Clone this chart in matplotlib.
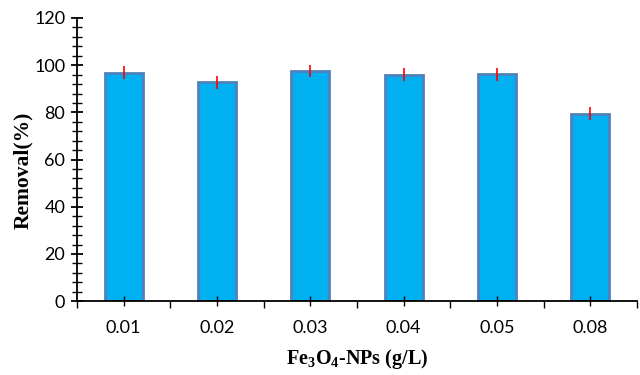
import matplotlib
matplotlib.use("Agg")
import matplotlib.pyplot as plt
from matplotlib.ticker import MultipleLocator, FixedLocator
import numpy as np

plt.rcParams["mathtext.fontset"] = "custom"
plt.rcParams["mathtext.rm"] = "Liberation Serif:bold"
plt.rcParams["mathtext.bf"] = "Liberation Serif:bold"

doses = ["0.01", "0.02", "0.03", "0.04", "0.05", "0.08"]
removal = [96.9, 92.7, 97.5, 95.9, 96.2, 79.5]
errors = [2.9, 2.7, 2.7, 2.7, 2.8, 2.8]

fig = plt.figure(figsize=(6.4, 3.75), dpi=100)
ax = fig.add_axes([0.1203, 0.197, 0.875, 0.755])

x = np.arange(len(doses))
ax.bar(x, removal, width=0.41, color="#00B0F0", edgecolor="#4F81BD", linewidth=2.0)
ax.errorbar(x, removal, yerr=errors, fmt="none", ecolor="red", elinewidth=1.2, capsize=0)

ax.set_xlim(-0.5, len(doses) - 0.5)
ax.set_ylim(0, 120)
ax.spines["top"].set_visible(False)
ax.spines["right"].set_visible(False)
ax.spines["left"].set_linewidth(1.3)
ax.spines["bottom"].set_linewidth(1.3)

ax.yaxis.set_major_locator(MultipleLocator(20))
ax.yaxis.set_minor_locator(MultipleLocator(4))
ax.tick_params(axis="y", which="major", direction="inout", length=9, width=1.3, labelsize=13, pad=4)
ax.tick_params(axis="y", which="minor", direction="inout", length=7, width=1.0)

ax.set_xticks(x)
ax.set_xticklabels(doses)
ax.xaxis.set_minor_locator(FixedLocator(np.arange(-0.5, len(doses), 1.0)))
ax.tick_params(axis="x", which="major", direction="inout", length=7, width=1.0, labelsize=13, pad=10)
ax.tick_params(axis="x", which="minor", direction="out", length=5, width=1.0)

for lab in ax.get_xticklabels() + ax.get_yticklabels():
    lab.set_family("Lato")

ax.set_ylabel("Removal(%)", family="Liberation Serif", fontweight="bold", fontsize=15.5)
ax.yaxis.set_label_coords(-0.079, 0.463)
ax.set_xlabel(r"Fe$_{3}$O$_{4}$-NPs (g/L)", family="Liberation Serif",
              fontweight="bold", fontsize=14.5, labelpad=8)

fig.savefig("out.png", dpi=100)
